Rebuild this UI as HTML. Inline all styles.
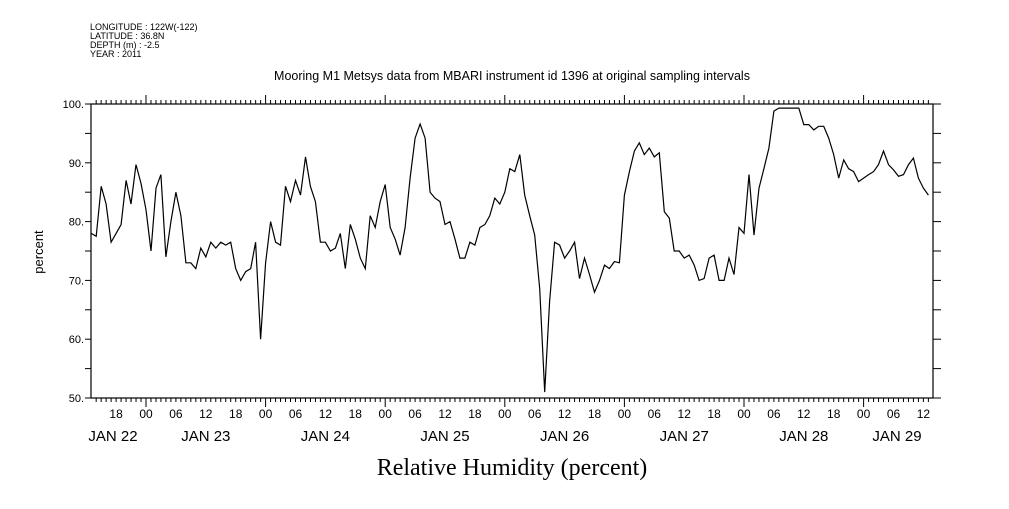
<!DOCTYPE html>
<html><head><meta charset="utf-8"><style>
body{margin:0;background:#fff;width:1009px;height:504px;overflow:hidden}
text{font-family:"Liberation Sans",sans-serif;fill:#000}
</style></head><body>
<svg id="chart" width="1009" height="504" xmlns="http://www.w3.org/2000/svg">
<g font-size="9">
<text x="90" y="30">LONGITUDE : 122W(-122)</text>
<text x="90" y="39">LATITUDE : 36.8N</text>
<text x="90" y="48">DEPTH (m) : -2.5</text>
<text x="90" y="57">YEAR : 2011</text>
</g>
<text x="512" y="80" font-size="12.5" text-anchor="middle">Mooring M1 Metsys data from MBARI instrument id 1396 at original sampling intervals</text>
<text transform="translate(43,252) rotate(-90)" font-size="13" text-anchor="middle">percent</text>
<text x="512" y="475" font-size="24" text-anchor="middle" style="font-family:'Liberation Serif',serif">Relative Humidity (percent)</text>
<rect x="91" y="104" width="842" height="294" fill="none" stroke="#000" stroke-width="1.2"/>
<g id="axes"></g>
<path id="series" fill="none" stroke="#000" stroke-width="1.2"/>
</svg>
<script>
const startHour = 13; // hours since Jan 22 00:00, one value per hour
const humidity = [78,77.5,86,83,76.5,78,79.5,87,83,89.7,86.5,82,75,85.7,88,74,80,85,81,73,73,72,75.5,74,76.5,75.5,76.5,76,76.5,72,70,71.5,72,76.5,60,73,80,76.5,76,86,83.4,87,84.5,91,86,83.4,76.5,76.5,75,75.5,78,72,79.5,77,73.8,72,81,79,83.4,86.3,79,77,74.3,79,87.4,94.2,96.6,94.2,85,84,83.4,79.5,80,77,73.8,73.8,76.5,76,79,79.5,81,84,83,85,89,88.5,91.4,84.5,81,77.7,68.6,51,66.4,76.5,76,73.8,75,76.5,70.3,73.8,71,68,70,72.6,72,73.2,73,84.5,88.5,92,93.4,91.4,92.5,91,91.7,81.7,80.6,75,75,73.8,74.3,72.6,70,70.3,73.8,74.3,70,70,73.8,71,79,78,88,77.7,85.7,89,92.5,98.8,99.3,99.3,99.3,99.3,99.3,96.5,96.5,95.6,96.2,96.2,94.2,91.4,87.4,90.5,89,88.5,86.8,87.4,88,88.5,89.7,92,89.7,88.8,87.7,88,89.7,90.8,87.4,85.7,84.5];
const yTicks = [50,60,70,80,90,100];
const hourLabels = ["18","00","06","12","18","00","06","12","18","00","06","12","18","00","06","12","18","00","06","12","18","00","06","12","18","00","06","12"];
const dayLabels = ["JAN 22","JAN 23","JAN 24","JAN 25","JAN 26","JAN 27","JAN 28","JAN 29"];
const NS="http://www.w3.org/2000/svg";
const X0=91,X1=933,Y0=398,Y1=104;
function xs(h){return 26.4+h*119.6/24;}
function ys(v){return Y0-(v-50)*(Y0-Y1)/50;}
const ax=document.getElementById('axes');
function line(x1,y1,x2,y2,name){const l=document.createElementNS(NS,'line');l.setAttribute('x1',x1);l.setAttribute('y1',y1);l.setAttribute('x2',x2);l.setAttribute('y2',y2);l.setAttribute('stroke','#000');l.setAttribute('stroke-width','1');


ax.appendChild(l);}
function txt(x,y,s,size,anchor,name){const t=document.createElementNS(NS,'text');t.setAttribute('x',x);t.setAttribute('y',y);t.setAttribute('font-size',size);t.setAttribute('text-anchor',anchor);t.textContent=s;


ax.appendChild(t);}
for(let h=14;h<=182;h++){const x=xs(h);if(x<X0||x>X1)continue;const len=(h%24===0)?9:4;line(x,Y1,x,Y1-len,'x-tick-top');line(x,Y0,x,Y0+len,'x-tick-bottom');}
for(let v=50;v<=100;v+=5){const y=ys(v);line(X0-6,y,X0,y,'y-tick-left');line(X1,y,X1+8,y,'y-tick-right');}
yTicks.forEach(v=>txt(84,ys(v)+4,v+'.',11,'end','y-tick-label'));
hourLabels.forEach((s,i)=>txt(xs(18+6*i),418,s,12,'middle','hour-label'));
dayLabels.forEach((s,i)=>{let x=xs(12+24*i);if(i===0)x=113;if(i===dayLabels.length-1)x=897;txt(x,441,s,15,'middle','day-label');});
let d='';humidity.forEach((v,i)=>{d+=(i?'L':'M')+xs(startHour+i).toFixed(1)+' '+ys(v).toFixed(1);});
document.getElementById('series').setAttribute('d',d);
</script>
</body></html>
